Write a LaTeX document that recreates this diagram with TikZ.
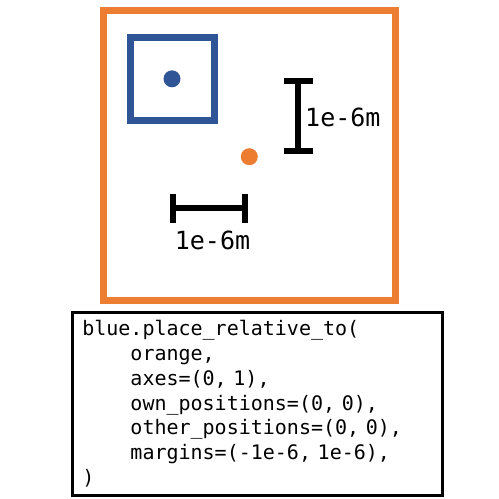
\documentclass[tikz,border=0pt]{standalone}
\usepackage{fontspec}
\setmonofont{DejaVu Sans Mono}
\usetikzlibrary{positioning,calc}
\definecolor{orng}{RGB}{237,125,49}
\definecolor{blu}{RGB}{47,85,151}
\newcommand{\codefont}{\ttfamily\fontsize{20}{24.8}\selectfont\spaceskip=0.602em\relax}
\newcommand{\ind}{\hspace*{2.408em}}

\begin{document}
\begin{tikzpicture}[x=1pt,y=-1pt,
  frame/.style={draw,minimum size=0pt,inner sep=0pt,line width=7pt},
  dot/.style={circle,inner sep=0pt,minimum size=17pt},
  bar/.style={line width=6pt,line cap=butt},
  lab/.style={font=\ttfamily\fontsize{25}{25}\selectfont,inner sep=0pt},
  code/.style={draw,line width=3pt,align=left,inner xsep=10pt,text width=350pt,minimum height=183pt,anchor=north west,
    font=\codefont}]
\useasboundingbox (0,0) rectangle (499,499);
% orange object and blue object
\node[frame,draw=orng,minimum width=292pt,minimum height=290pt] (orange) at (249.5,155.5) {};
\node[frame,draw=blu,minimum width=84pt,minimum height=83.5pt] (blue) at (172,78.8) {};
\node[dot,fill=blu] (bluedot) at (blue.center) {};
\node[dot,fill=orng] (orangedot) at (249.3,156.7) {};
% scale bars
\coordinate (vtop) at (298.3,81);
\coordinate (vbot) at (298.3,151);
\coordinate (hleft) at (173,208.3);
\coordinate (hright) at (245,208.3);
\draw[bar] (vtop) -- (vbot);
\draw[bar] ($(vtop)+(-14.3,0)$) -- ($(vtop)+(14.3,0)$);
\draw[bar] ($(vbot)+(-14.3,0)$) -- ($(vbot)+(14.3,0)$);
\draw[bar] (hleft) -- (hright);
\draw[bar] ($(hleft)+(0,-14.3)$) -- ($(hleft)+(0,14.3)$);
\draw[bar] ($(hright)+(0,-14.3)$) -- ($(hright)+(0,14.3)$);
\node[lab,anchor=west] (vlab) at (305,117) {1e-6m};
\node[lab] (hlab) at (212.5,240) {1e-6m};
% call that places them
\node[code] (call) at (70.8,310.8) {blue.place\_relative\_to(\\
\ind orange,\\
\ind axes=(0, 1),\\
\ind own\_positions=(0, 0),\\
\ind other\_positions=(0, 0),\\
\ind margins=(-1e-6, 1e-6),\\
)};
\end{tikzpicture}
\end{document}
